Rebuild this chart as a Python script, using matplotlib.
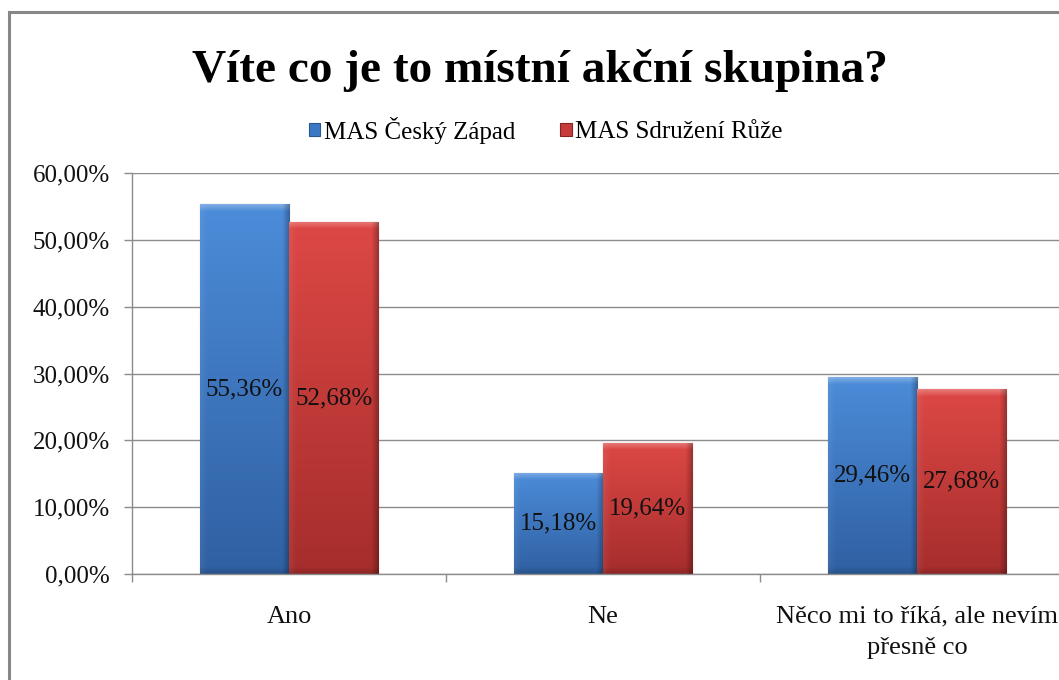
import numpy as np
import matplotlib
matplotlib.use("Agg")
import matplotlib.pyplot as plt
from matplotlib.ticker import FuncFormatter, FixedLocator
from matplotlib.patches import Rectangle

# ---- data ----
title = "Víte co je to místní akční skupina?"
categories = ["Ano", "Ne", "Něco mi to říká, ale nevím\npřesně co"]
series_names = ["MAS Český Západ", "MAS Sdružení Růže"]
cesky_zapad = [55.36, 15.18, 29.46]
sdruzeni_ruze = [52.68, 19.64, 27.68]
y_ticks = [0, 10, 20, 30, 40, 50, 60]

SERIF = ["Liberation Serif", "DejaVu Serif"]
plt.rcParams["font.family"] = SERIF

W_PX, H_PX = 1059, 680
fig = plt.figure(figsize=(W_PX / 100, H_PX / 100), dpi=100)

# outer chart border
fig.patches.append(Rectangle((9 / W_PX, -0.1), 1.2, 1 - 12 / H_PX + 0.1,
                             transform=fig.transFigure, fill=False,
                             edgecolor="#878787", linewidth=2.2, zorder=0))

ax = fig.add_axes([132 / W_PX, (H_PX - 574) / H_PX,
                   942 / W_PX, (574 - 173) / H_PX])

x = np.arange(len(categories))
bw = 0.285
colors = {
    "blue": dict(top=np.array([0x4c, 0x8c, 0xd9]) / 255, bot=np.array([0x2f, 0x60, 0xa2]) / 255,
                 face="#3b78c4", edge="#2a5590"),
    "red": dict(top=np.array([0xdd, 0x48, 0x45]) / 255, bot=np.array([0xa5, 0x2d, 0x2c]) / 255,
                face="#c63c3b", edge="#862222"),
}

ax.set_xlim(-0.5, len(categories) - 0.5)
ax.set_ylim(0, 60)

bars1 = ax.bar(x - bw / 2, cesky_zapad, bw, color=colors["blue"]["face"],
               edgecolor=colors["blue"]["edge"], linewidth=0.8, zorder=2,
               label=series_names[0])
bars2 = ax.bar(x + bw / 2, sdruzeni_ruze, bw, color=colors["red"]["face"],
               edgecolor=colors["red"]["edge"], linewidth=0.8, zorder=2,
               label=series_names[1])


def shade(bars, c):
    for bar in bars:
        x0, y0 = bar.get_x(), bar.get_y()
        w, h = bar.get_width(), bar.get_height()
        p0 = ax.transData.transform((x0, y0))
        p1 = ax.transData.transform((x0 + w, y0 + h))
        Wp = max(int(round(p1[0] - p0[0])), 2)
        Hp = max(int(round(p1[1] - p0[1])), 2)
        t = np.linspace(0, 1, Hp)[:, None, None]
        img = c["top"][None, None, :] * (1 - t) + c["bot"][None, None, :] * t
        img = np.repeat(img, Wp, axis=1)
        b = 8
        ramp = np.linspace(1, 0, b)  # 1 at edge -> 0 inside
        for i in range(min(b, Hp)):
            k = 0.28 * ramp[i]
            img[i, :, :] = img[i, :, :] * (1 - k) + k
        for j in range(min(b, Wp)):
            k = 0.06 * ramp[j]
            img[:, j, :] = img[:, j, :] * (1 - k) + k
        for j in range(min(b, Wp)):
            k = 0.28 * ramp[j]
            img[:, -1 - j, :] = img[:, -1 - j, :] * (1 - k)
        for i in range(min(b, Hp)):
            k = 0.15 * ramp[i]
            img[-1 - i, :, :] = img[-1 - i, :, :] * (1 - k)
        img = np.clip(img, 0, 1)
        im = ax.imshow(img, extent=(x0, x0 + w, y0, y0 + h), aspect="auto",
                       zorder=2.1, interpolation="bilinear")
        im.set_clip_path(bar)


shade(bars1, colors["blue"])
shade(bars2, colors["red"])
ax.set_xlim(-0.5, len(categories) - 0.5)
ax.set_ylim(0, 60)


def fmt(v):
    return f"{v:.2f}%".replace(".", ",")


for bars, vals in ((bars1, cesky_zapad), (bars2, sdruzeni_ruze)):
    for bar, v in zip(bars, vals):
        ax.text(bar.get_x() + bar.get_width() / 2, v / 2, fmt(v),
                ha="center", va="center", fontsize=18, color="#111111", zorder=4)

# axes styling
ax.set_yticks(y_ticks)
ax.yaxis.set_major_formatter(FuncFormatter(lambda v, p: fmt(v)))
ax.yaxis.grid(True, color="#8c8c8c", linewidth=1.0)
ax.set_axisbelow(True)
ax.tick_params(axis="y", direction="out", length=6, width=1, color="#8c8c8c",
               pad=10, labelsize=18, labelcolor="#111111")
ax.set_xticks(x)
ax.set_xticklabels(categories, fontsize=19, color="#111111")
for lbl in ax.get_xticklabels():
    lbl.set_linespacing(1.55)
ax.tick_params(axis="x", which="major", length=0, pad=23)
ax.xaxis.set_minor_locator(FixedLocator(np.arange(len(categories) + 1) - 0.5))
ax.tick_params(axis="x", which="minor", direction="out", length=6, width=1,
               color="#8c8c8c")
for s in ("top", "right"):
    ax.spines[s].set_visible(False)
for s in ("left", "bottom"):
    ax.spines[s].set_color("#8c8c8c")
    ax.spines[s].set_linewidth(1.0)

fig.text(540 / W_PX, 1 - 70 / H_PX, title, ha="center", va="center",
         fontsize=34, fontweight="bold", color="black")

leg = fig.legend(handles=[bars1, bars2], labels=series_names, loc="center",
                 bbox_to_anchor=(546 / W_PX, 1 - 130 / H_PX), ncol=2,
                 frameon=False, fontsize=18, handlelength=0.45,
                 handleheight=0.45, handletextpad=0.15, columnspacing=1.8)

fig.savefig("out.png", dpi=100)
